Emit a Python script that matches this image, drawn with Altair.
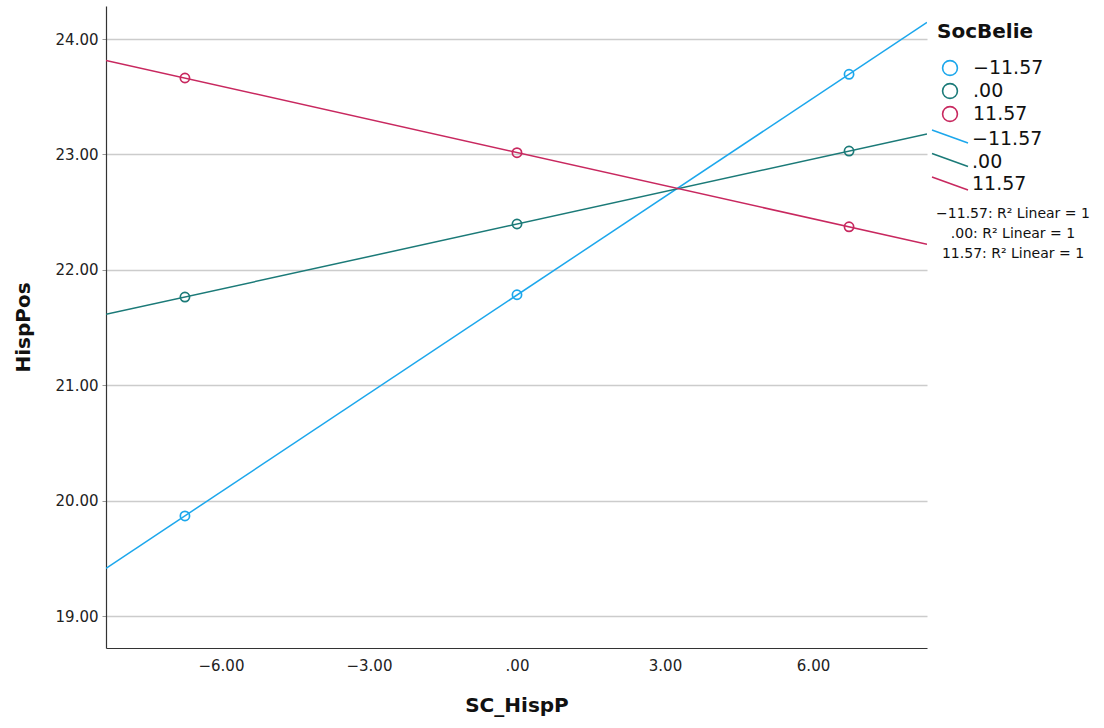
import altair as alt
import pandas as pd

# Simple slopes of HispPos on SC_HispP at three levels of SocBelie
groups = ["-11.57", ".00", "11.57"]
group_labels = ["\u221211.57", ".00", "11.57"]
x_values = [-6.73, 0.0, 6.73]
hisp_low = [19.867, 21.784, 23.694]
hisp_mid = [21.764, 22.397, 23.029]
hisp_high = [23.662, 23.015, 22.373]
colors = ["#1CA7EC", "#1B7A78", "#C8285F"]
r2_labels = ["\u221211.57: R\u00b2 Linear = 1", ".00: R\u00b2 Linear = 1", "11.57: R\u00b2 Linear = 1"]

x_extent = [-8.33, 8.31]
y_domain = [18.723, 24.286]

rows = []
for g, ys in zip(groups, [hisp_low, hisp_mid, hisp_high]):
    for xv, yv in zip(x_values, ys):
        rows.append({"SocBelie": g, "SC_HispP": xv, "HispPos": yv})
df = pd.DataFrame(rows)

FONT = "DejaVu Sans"
W, H = 821, 642
PX = 106  # left offset of the plot area

color_scale = alt.Scale(domain=groups, range=colors)

x_enc = alt.X(
    "SC_HispP:Q",
    scale=alt.Scale(domain=x_extent, nice=False, zero=False),
    axis=alt.Axis(
        values=[-6, -3, 0, 3, 6],
        labelExpr="datum.value == 0 ? '.00' : format(datum.value, '.2f')",
        grid=False, title="SC_HispP", titleFontSize=20, titleFontWeight="bold",
        titlePadding=22, labelFontSize=15, labelPadding=10, ticks=False,
        domainColor="#333333", labelColor="#222222",
        titleColor="#111111", labelFont=FONT, titleFont=FONT,
    ),
)
y_enc = alt.Y(
    "HispPos:Q",
    scale=alt.Scale(domain=y_domain, nice=False, zero=False),
    axis=alt.Axis(
        values=[19, 20, 21, 22, 23, 24], format=".2f",
        grid=True, gridColor="#CCCCCC", gridWidth=1.6,
        title="HispPos", titleFontSize=20, titleFontWeight="bold",
        titlePadding=22, labelFontSize=15, labelPadding=4, tickSize=4,
        tickColor="#999999", domainColor="#333333", labelColor="#222222",
        titleColor="#111111", labelFont=FONT, titleFont=FONT,
    ),
)

base = alt.Chart(df)

fit_lines = base.transform_regression(
    "SC_HispP", "HispPos", groupby=["SocBelie"], extent=x_extent
).mark_line(strokeWidth=1.5, clip=True).encode(
    x=x_enc, y=y_enc,
    color=alt.Color("SocBelie:N", scale=color_scale, legend=None),
)

points = base.mark_point(shape="circle", filled=False, size=85, strokeWidth=1.7, opacity=1).encode(
    x=x_enc, y=y_enc,
    color=alt.Color("SocBelie:N", scale=color_scale, legend=None),
)

# Hand-built legend to the right of the plot (pixel positions, unscaled)
leg = pd.DataFrame({
    "SocBelie": groups,
    "label": group_labels,
    "r2": r2_labels,
    "idx": [0, 1, 2],
})
leg_base = alt.Chart(leg).transform_calculate(
    cy="62 + 23 * datum.idx",
    ly="133 + 22.5 * datum.idx",
    ly1="124 + 23.5 * datum.idx",
    ly2="137 + 23.5 * datum.idx",
    ry="208 + 20 * datum.idx",
)

leg_circles = leg_base.mark_point(shape="circle", filled=False, size=220, strokeWidth=1.6, opacity=1).encode(
    x=alt.value(950 - PX), y=alt.Y("cy:Q", scale=None),
    color=alt.Color("SocBelie:N", scale=color_scale, legend=None),
)
leg_circle_text = leg_base.mark_text(align="left", baseline="middle", fontSize=19, font=FONT, color="#111111").encode(
    x=alt.value(973 - PX), y=alt.Y("cy:Q", scale=None), text="label:N",
)
leg_rules = leg_base.mark_rule(strokeWidth=1.5).encode(
    x=alt.value(932 - PX), x2=alt.value(968 - PX),
    y=alt.Y("ly1:Q", scale=None), y2=alt.Y2("ly2:Q"),
    color=alt.Color("SocBelie:N", scale=color_scale, legend=None),
)
leg_rule_text = leg_base.mark_text(align="left", baseline="middle", fontSize=19, font=FONT, color="#111111").encode(
    x=alt.value(972 - PX), y=alt.Y("ly:Q", scale=None), text="label:N",
)
leg_r2 = leg_base.mark_text(align="center", baseline="middle", fontSize=14, font=FONT, color="#111111").encode(
    x=alt.value(1013 - PX), y=alt.Y("ry:Q", scale=None), text="r2:N",
)
leg_title = alt.Chart(pd.DataFrame({"t": ["SocBelie"]})).mark_text(
    align="left", baseline="middle", fontSize=20, fontWeight="bold", font=FONT, color="#111111"
).encode(x=alt.value(937 - PX), y=alt.value(26), text="t:N")

chart = alt.layer(
    fit_lines, points, leg_circles, leg_circle_text, leg_rules, leg_rule_text, leg_r2, leg_title
).properties(
    width=W, height=H,
    autosize=alt.AutoSizeParams(type="none"),
    padding={"left": PX, "top": 6, "right": 1104 - PX - W, "bottom": 728 - 6 - H},
    background="white",
).configure_view(stroke=None).configure_axis(domainWidth=1.2)

chart.save("out.html", embed_options={"renderer": "svg", "actions": False})
